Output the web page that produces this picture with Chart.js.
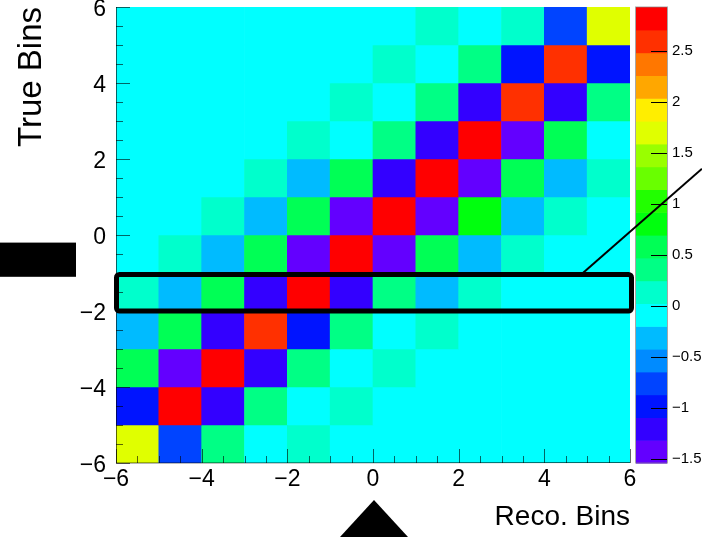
<!DOCTYPE html>
<html>
<head>
<meta charset="utf-8">
<script src="https://cdn.jsdelivr.net/npm/chart.js@4.4.0/dist/chart.umd.min.js"></script>
<style>
  html, body { margin: 0; padding: 0; background: #fff; }
</style>
</head>
<body>
<canvas id="heat" width="702" height="537"></canvas>
<script>
// bin edges (reco on x, true on y), same binning on both
const binEdges = [-6, -5, -4, -3, -2, -1, 0, 1, 2, 3, 4, 5, 6];
const axisTicks = [-6, -4, -2, 0, 2, 4, 6];
const zTicks = [-1.5, -1, -0.5, 0, 0.5, 1, 1.5, 2, 2.5];
const zMin = -1.54, zMax = 2.93;

// one array per true bin, reco bins -6..6 left to right
const true5  = [0, 0, 0, 0, 0, 0.01, 0, 0.11, 0.01, 0.13, -0.74, 1.72];
const true4  = [0, 0, 0, 0, 0, 0.01, 0.12, 0, 0.37, -0.99, 2.61, -0.98];
const true3  = [0, 0, 0, 0, 0.01, 0.11, 0, 0.38, -1.19, 2.58, -1.21, 0.36];
const true2  = [0, 0, 0, 0.01, 0.12, 0, 0.39, -1.22, 2.88, -1.43, 0.59, 0.01];
const true1  = [0, 0, 0.01, 0.12, -0.31, 0.6, -1.2, 2.9, -1.44, 0.61, -0.3, 0.13];
const true0  = [0, 0.01, 0.13, -0.32, 0.61, -1.45, 2.93, -1.42, 0.8, -0.31, 0.12, 0.01];
const trueM1 = [0.01, 0.12, -0.3, 0.6, -1.44, 2.91, -1.43, 0.62, -0.3, 0.13, 0.01, 0];
const trueM2 = [0.12, -0.31, 0.59, -1.21, 2.89, -1.2, 0.38, -0.32, 0.11, 0.01, 0, 0];
const trueM3 = [-0.3, 0.6, -1.19, 2.6, -1.0, 0.37, 0, 0.12, 0.01, 0, 0, 0];
const trueM4 = [0.58, -1.42, 2.87, -1.21, 0.39, 0, 0.11, 0.01, 0, 0, 0, 0];
const trueM5 = [-0.97, 2.85, -1.22, 0.36, 0.01, 0.13, 0.01, 0, 0, 0, 0, 0];
const trueM6 = [1.69, -0.76, 0.38, 0, 0.12, 0.01, 0, 0, 0, 0, 0, 0];
const trueRows = [true5, true4, true3, true2, true1, true0, trueM1, trueM2, trueM3, trueM4, trueM5, trueM6];

// ROOT "pretty" palette, 20 contours, bottom to top
const palette = [
  'rgb(99,0,255)', 'rgb(51,0,255)', 'rgb(0,20,255)', 'rgb(0,68,255)', 'rgb(0,139,255)',
  'rgb(0,187,255)', 'rgb(0,255,255)', 'rgb(0,255,204)', 'rgb(0,255,133)', 'rgb(0,255,85)',
  'rgb(0,255,14)', 'rgb(34,255,0)', 'rgb(105,255,0)', 'rgb(153,255,0)', 'rgb(224,255,0)',
  'rgb(255,238,0)', 'rgb(255,167,0)', 'rgb(255,119,0)', 'rgb(255,48,0)', 'rgb(255,0,0)'
];
const dz = (zMax - zMin) / palette.length;

function zColor(v) {
  let k = Math.floor((v - zMin) / dz);
  k = Math.max(0, Math.min(palette.length - 1, k));
  return palette[k];
}

function minusLabel(v) {
  return v < 0 ? '\u2212' + Math.abs(v) : String(v);
}

const datasets = trueRows.map(function (row, r) {
  const yHi = binEdges[binEdges.length - 1 - r];
  const yLo = binEdges[binEdges.length - 2 - r];
  return {
    data: row.map(function (v, i) {
      return { x: (binEdges[i] + binEdges[i + 1]) / 2, y: [yLo, yHi], v: v };
    }),
    backgroundColor: function (ctx) { return zColor(ctx.raw.v); },
    grouped: false,
    barPercentage: 1,
    categoryPercentage: 1,
    borderWidth: 0
  };
});

// colour bar, inner tick marks, and the black marks drawn on top of the picture
const overlay = {
  id: 'overlay',
  afterDatasetsDraw(chart) {
    const ctx = chart.ctx, a = chart.chartArea;
    const x = chart.scales.x, y = chart.scales.y, z = chart.scales.z;
    ctx.save();

    // colour bar
    const barL = a.right + 6, barR = a.right + 37;
    palette.forEach(function (c, k) {
      const top = z.getPixelForValue(zMin + (k + 1) * dz);
      const bot = z.getPixelForValue(zMin + k * dz);
      ctx.fillStyle = c;
      ctx.fillRect(barL, top, barR - barL, bot - top + 0.6);
    });
    ctx.strokeStyle = 'rgba(130,130,130,0.7)';
    ctx.lineWidth = 1;
    ctx.strokeRect(barL - 0.5, a.top, barR - barL + 1, a.bottom - a.top);
    ctx.strokeStyle = '#000';
    zTicks.forEach(function (t) {
      const py = Math.round(z.getPixelForValue(t)) + 0.5;
      ctx.beginPath(); ctx.moveTo(barR - 16, py); ctx.lineTo(barR, py); ctx.stroke();
    });

    // axis lines and inner ticks
    ctx.strokeStyle = 'rgba(0,0,0,0.6)';
    ctx.beginPath();
    ctx.moveTo(a.left + 0.5, a.top); ctx.lineTo(a.left + 0.5, a.bottom);
    ctx.lineTo(a.right, a.bottom - 0.5);
    ctx.stroke();
    for (let v = -6; v <= 6; v += 0.5) {
      const len = v % 2 === 0 ? 14 : 7;
      const px = Math.round(x.getPixelForValue(v)) + 0.5;
      const py = Math.round(y.getPixelForValue(v)) + 0.5;
      ctx.beginPath();
      ctx.moveTo(px, a.bottom); ctx.lineTo(px, a.bottom - len);
      ctx.moveTo(a.left, py); ctx.lineTo(a.left + len, py);
      ctx.stroke();
    }

    // highlighted row frame
    ctx.strokeStyle = '#000';
    ctx.lineWidth = 5;
    const fTop = y.getPixelForValue(-1) + 1.5, fBot = y.getPixelForValue(-2);
    ctx.beginPath();
    ctx.roundRect(a.left + 0.5, fTop, a.right - a.left + 1, fBot - fTop, 3);
    ctx.stroke();

    // pointer line
    ctx.lineWidth = 2;
    const sx = x.getPixelForValue(4.9), sy = y.getPixelForValue(-1);
    ctx.beginPath();
    ctx.moveTo(sx, sy);
    ctx.lineTo(chart.width, sy - 0.875 * (chart.width - sx));
    ctx.stroke();

    // black box on the left and triangle below the x axis
    ctx.fillStyle = '#000';
    const bTop = y.getPixelForValue(-0.2), bBot = y.getPixelForValue(-1.1);
    ctx.fillRect(0, bTop, a.left - 40, bBot - bTop);
    const tx = x.getPixelForValue(0) + 1;
    ctx.beginPath();
    ctx.moveTo(tx, chart.height - 37);
    ctx.lineTo(tx + 34, chart.height);
    ctx.lineTo(tx - 34, chart.height);
    ctx.closePath();
    ctx.fill();

    ctx.restore();
  }
};

function fixWidth(w) {
  return function (s) { s.width = w; s.paddingTop = 0; s.paddingBottom = 0; };
}

Chart.defaults.font.family = "'Liberation Sans', Arial, sans-serif";
Chart.defaults.color = '#000';

new Chart(document.getElementById('heat'), {
  type: 'bar',
  data: { datasets: datasets },
  options: {
    responsive: false,
    animation: false,
    devicePixelRatio: 1,
    layout: { padding: { top: 7, left: 0, right: 0, bottom: 0 } },
    plugins: { legend: { display: false }, tooltip: { enabled: false } },
    scales: {
      x: {
        type: 'linear', min: -6, max: 6, offset: false,
        afterBuildTicks: function (s) { s.ticks = axisTicks.map(function (v) { return { value: v }; }); },
        ticks: { font: { size: 23 }, padding: 3, maxRotation: 0, callback: minusLabel },
        grid: { display: false, drawTicks: false },
        border: { display: false },
        title: { display: true, text: 'Reco. Bins', align: 'end', font: { size: 28 }, padding: { top: 0, bottom: 3 } },
        afterFit: function (s) { s.height = 74; s.paddingLeft = 0; s.paddingRight = 0; }
      },
      y: {
        type: 'linear', min: -6, max: 6,
        afterBuildTicks: function (s) { s.ticks = axisTicks.map(function (v) { return { value: v }; }); },
        ticks: { font: { size: 23 }, padding: 10, labelOffset: 3, callback: minusLabel },
        grid: { display: false, drawTicks: false },
        border: { display: false },
        title: { display: true, text: 'True Bins', align: 'end', font: { size: 33 }, padding: { top: 12, bottom: 0 } },
        afterFit: fixWidth(116)
      },
      z: {
        type: 'linear', axis: 'y', position: 'right', min: zMin, max: zMax, bounds: 'data',
        afterBuildTicks: function (s) { s.ticks = zTicks.map(function (v) { return { value: v }; }); },
        ticks: { font: { size: 15 }, padding: 42, callback: minusLabel },
        grid: { display: false, drawTicks: false },
        border: { display: false },
        afterFit: fixWidth(72)
      }
    }
  },
  plugins: [overlay]
});
</script>
</body>
</html>
